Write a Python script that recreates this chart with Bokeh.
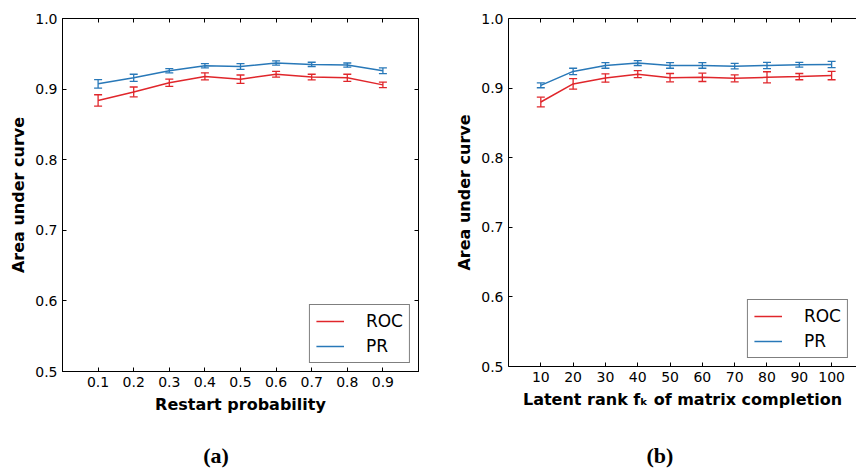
from bokeh.plotting import figure
from bokeh.models import (ColumnDataSource, Whisker, TeeHead, Legend, LegendItem,
                          LinearAxis, FixedTicker, Range1d, PrintfTickFormatter, Div)
from bokeh.layouts import row, column
from bokeh.embed import file_html
from bokeh.resources import INLINE

# ---- data: panel (a) ----
restart_prob = [0.1, 0.2, 0.3, 0.4, 0.5, 0.6, 0.7, 0.8, 0.9]
roc_a = [0.884, 0.896, 0.909, 0.918, 0.914, 0.921, 0.917, 0.916, 0.906]
roc_a_err = [0.008, 0.007, 0.005, 0.005, 0.006, 0.004, 0.004, 0.005, 0.004]
pr_a = [0.9075, 0.916, 0.926, 0.933, 0.932, 0.937, 0.935, 0.934, 0.926]
pr_a_err = [0.006, 0.005, 0.003, 0.003, 0.004, 0.003, 0.003, 0.003, 0.004]

# ---- data: panel (b) ----
latent_rank = [10, 20, 30, 40, 50, 60, 70, 80, 90, 100]
roc_b = [0.880, 0.906, 0.9145, 0.920, 0.915, 0.9155, 0.914, 0.9155, 0.9165, 0.918]
roc_b_err = [0.007, 0.0075, 0.006, 0.005, 0.006, 0.006, 0.005, 0.008, 0.0045, 0.006]
pr_b = [0.904, 0.924, 0.9325, 0.936, 0.9325, 0.9325, 0.9315, 0.9325, 0.9335, 0.934]
pr_b_err = [0.0035, 0.0045, 0.004, 0.0035, 0.004, 0.004, 0.004, 0.0045, 0.0035, 0.0045]

y_ticks = [0.5, 0.6, 0.7, 0.8, 0.9, 1.0]

RED = "#e0262b"
BLUE = "#2878b8"
FONT = "DejaVu Sans"


def style_axis(ax, show_labels=True):
    ax.major_tick_in = 4
    ax.major_tick_out = 0
    ax.minor_tick_line_color = None
    ax.axis_line_color = "black"
    ax.major_tick_line_color = "black"
    ax.major_label_text_font = FONT
    if show_labels:
        ax.major_label_text_color = "black"
        ax.major_label_text_font_size = "14px"
        ax.major_label_standoff = 5
    else:
        ax.major_label_text_color = None
        ax.major_label_text_font_size = "1px"
        ax.major_label_standoff = 0


def make_panel(xs, roc, roc_err, pr, pr_err, x_range, x_ticks, x_fmt, x_label,
               width, height, border_left, border_right, mirror_right):
    p = figure(width=width, height=height, output_backend="svg", toolbar_location=None,
               x_range=Range1d(*x_range), y_range=Range1d(0.5, 1.0),
               min_border_left=border_left, min_border_right=border_right,
               min_border_top=18, min_border_bottom=64)
    p.xgrid.visible = False
    p.ygrid.visible = False
    p.background_fill_color = "white"
    p.border_fill_color = "white"
    p.outline_line_color = "black" if mirror_right else None

    p.xaxis.ticker = FixedTicker(ticks=x_ticks)
    p.yaxis.ticker = FixedTicker(ticks=y_ticks)
    p.xaxis.formatter = PrintfTickFormatter(format=x_fmt)
    p.yaxis.formatter = PrintfTickFormatter(format="%.1f")
    for ax in (p.xaxis[0], p.yaxis[0]):
        style_axis(ax)

    p.xaxis.axis_label = x_label
    p.yaxis.axis_label = "Area under curve"
    for ax in (p.xaxis[0], p.yaxis[0]):
        ax.axis_label_text_font = FONT
        ax.axis_label_text_font_style = "bold"
        ax.axis_label_text_font_size = "16px"
        ax.axis_label_text_color = "black"
    p.xaxis.axis_label_standoff = 5
    p.yaxis.axis_label_standoff = 4

    top = LinearAxis(ticker=FixedTicker(ticks=x_ticks))
    style_axis(top, show_labels=False)
    p.add_layout(top, "above")
    if mirror_right:
        right = LinearAxis(ticker=FixedTicker(ticks=y_ticks))
        style_axis(right, show_labels=False)
        p.add_layout(right, "right")

    items = []
    for name, ys, err, color in (("ROC", roc, roc_err, RED), ("PR", pr, pr_err, BLUE)):
        src = ColumnDataSource(dict(
            x=xs, y=ys,
            upper=[v + e for v, e in zip(ys, err)],
            lower=[v - e for v, e in zip(ys, err)]))
        r = p.line("x", "y", source=src, line_color=color, line_width=1.5)
        w = Whisker(source=src, base="x", upper="upper", lower="lower",
                    dimension="height", line_color=color, line_width=1.3,
                    upper_head=TeeHead(size=8, line_color=color, line_width=1.3),
                    lower_head=TeeHead(size=8, line_color=color, line_width=1.3))
        p.add_layout(w)
        items.append(LegendItem(label=name, renderers=[r]))

    leg = Legend(items=items, location="bottom_right",
                 label_text_font=FONT, label_text_font_size="17px",
                 label_text_color="black", glyph_width=28, glyph_height=20,
                 label_height=20, label_standoff=22, spacing=5, padding=6,
                 margin=8, border_line_color="black", border_line_width=1,
                 background_fill_color="white", background_fill_alpha=1.0)
    p.add_layout(leg)
    return p


def caption(text, width, shift):
    html = ('<div style="font-family:\'Liberation Serif\',serif;font-weight:bold;'
            'font-size:22px;line-height:22px;text-align:center;color:black;'
            f'box-sizing:border-box;width:{width}px;padding-top:10px;'
            f'padding-left:{2 * shift}px;">{text}</div>')
    return Div(text=html, width=width, height=35, margin=0)


pa = make_panel(restart_prob, roc_a, roc_a_err, pr_a, pr_a_err, (0.0, 1.0),
                restart_prob, "%.1f", "Restart probability",
                width=428, height=435, border_left=62, border_right=10,
                mirror_right=True)
pb = make_panel(latent_rank, roc_b, roc_b_err, pr_b, pr_b_err, (0.0, 107.7),
                latent_rank, "%d", "Latent rank fₖ of matrix completion",
                width=428, height=430, border_left=80, border_right=0,
                mirror_right=False)

ca = caption("(a)", 428, 2)
cb = caption("(b)", 428, 18)

layout = column(row(pa, pb, spacing=0), row(ca, cb, spacing=0), spacing=0)
open("out.html", "w").write(file_html(layout, INLINE))
